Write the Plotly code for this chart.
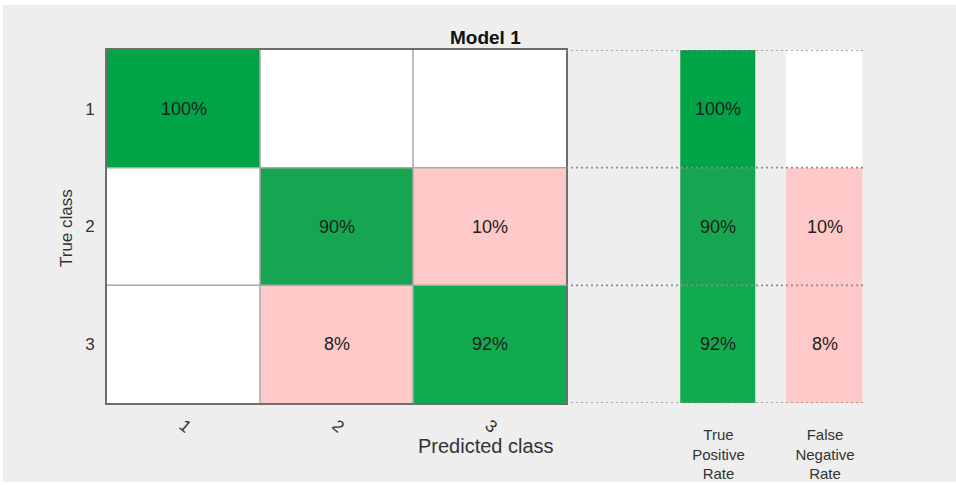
import plotly.graph_objects as go

# ---------------- data ----------------
classes = ["1", "2", "3"]
cm_pct = [[100, 0, 0],
          [0, 90, 10],
          [0, 8, 92]]
tpr = [100, 90, 92]
fnr = [0, 10, 8]
summary_labels = ["True<br>Positive<br>Rate", "False<br>Negative<br>Rate"]
title_text = "Model 1"
xlabel = "Predicted class"
ylabel = "True class"

# ---------------- styles ----------------
FONT = "Liberation Sans, Arial, sans-serif"
BG = "#eeeeee"
GREENS = {100: "#00a346", 92: "#10aa4f", 90: "#16a651"}
PINK = "#ffc9c9"
WHITE = "#ffffff"
W, H = 956, 485


def good_color(v):
    return GREENS.get(v, "#10a84e") if v > 0 else WHITE


def bad_color(v):
    return PINK if v > 0 else WHITE


n = len(classes)
xs = list(range(1, n + 1))

# colour matrices
main_colors = [[good_color(cm_pct[i][j]) if i == j else bad_color(cm_pct[i][j])
                for j in range(n)] for i in range(n)]
sum_colors = [[good_color(tpr[i]), bad_color(fnr[i])] for i in range(n)]

palette = []
for row in main_colors + sum_colors:
    for c in row:
        if c not in palette:
            palette.append(c)
K = len(palette)
cscale = []
for k, c in enumerate(palette):
    cscale.append([k / K, c])
    cscale.append([(k + 1) / K, c])

main_z = [[palette.index(c) for c in row] for row in main_colors]
sum_z = [[palette.index(c) for c in row] for row in sum_colors]
main_text = [[f"{v}%" if v > 0 else "" for v in row] for row in cm_pct]
sum_text = [[f"{tpr[i]}%" if tpr[i] > 0 else "", f"{fnr[i]}%" if fnr[i] > 0 else ""]
            for i in range(n)]

fig = go.Figure()
fig.add_trace(go.Heatmap(
    x=xs, y=xs, z=main_z, text=main_text, texttemplate="%{text}",
    textfont=dict(family=FONT, size=18, color="#1e1e1e"),
    colorscale=cscale, zmin=-0.5, zmax=K - 0.5, showscale=False,
    hoverinfo="skip", xaxis="x", yaxis="y"))
fig.add_trace(go.Heatmap(
    x=[1, 2], y=xs, z=sum_z, text=sum_text, texttemplate="%{text}",
    textfont=dict(family=FONT, size=18, color="#1e1e1e"),
    colorscale=cscale, zmin=-0.5, zmax=K - 0.5, showscale=False,
    xgap=31, ygap=0, hoverinfo="skip", xaxis="x2", yaxis="y"))

# internal grid lines of matrix
shapes = []
for k in range(1, n):
    b = k + 0.5
    shapes.append(dict(type="line", xref="x", yref="y", x0=b, x1=b, y0=0.5, y1=n + 0.5,
                       line=dict(color="#a9a9a9", width=1.5)))
    shapes.append(dict(type="line", xref="x", yref="y", x0=0.5, x1=n + 0.5, y0=b, y1=b,
                       line=dict(color="#a9a9a9", width=1.5)))
# dotted row lines in summary
for k in range(0, n + 1):
    b = k + 0.5
    shapes.append(dict(type="line", xref="x2 domain", yref="y", x0=0, x1=1, y0=b, y1=b,
                       line=dict(color="#8c8c8c", width=1.6, dash="2px,3px")))
# outer gray page area with thin white edges
shapes.insert(0, dict(type="rect", xref="paper", yref="paper", layer="below",
                      x0=3 / W, x1=1, y0=3 / H, y1=1 - 5 / H,
                      fillcolor=BG, line=dict(width=0)))

ytop = 1 - 50 / H
ybot = 1 - 403 / H
fig.update_layout(
    width=W, height=H, margin=dict(l=0, r=0, t=0, b=0),
    paper_bgcolor=WHITE, plot_bgcolor=BG,
    font=dict(family=FONT, color="#333333"),
    showlegend=False, shapes=shapes,
    xaxis=dict(domain=[107 / W, 566 / W], range=[0.5, n + 0.5],
               tickvals=xs, ticktext=classes, tickangle=40,
               ticks="outside", ticklen=4, tickcolor="rgba(0,0,0,0)",
               tickfont=dict(size=17, color="#333333"),
               showgrid=False, zeroline=False,
               showline=True, mirror=True, linecolor="#6e6e6e", linewidth=2),
    yaxis=dict(domain=[ybot, ytop], range=[n + 0.5, 0.5],
               tickvals=xs, ticktext=classes,
               ticks="outside", ticklen=7, tickcolor="rgba(0,0,0,0)",
               tickfont=dict(size=17, color="#333333"),
               showgrid=False, zeroline=False,
               showline=True, mirror=True, linecolor="#6e6e6e", linewidth=2),
    xaxis2=dict(domain=[566 / W, 863 / W], range=[-0.432, 2.357], anchor="y",
                tickvals=[1, 2], ticktext=summary_labels,
                ticks="outside", ticklen=18, tickcolor="rgba(0,0,0,0)",
                tickfont=dict(size=15, color="#333333"),
                showgrid=False, zeroline=False, showline=False),
    annotations=[
        dict(text=f"<b>{title_text}</b>", xref="paper", yref="paper",
             x=485 / W, y=1 - 38 / H, showarrow=False, xanchor="center", yanchor="middle",
             font=dict(size=19, color="#111111")),
        dict(text=xlabel, xref="paper", yref="paper",
             x=486 / W, y=1 - 446 / H, showarrow=False, xanchor="center", yanchor="middle",
             font=dict(size=20, color="#333333")),
        dict(text=ylabel, xref="paper", yref="paper", textangle=-90,
             x=66 / W, y=1 - 228 / H, showarrow=False, xanchor="center", yanchor="middle",
             font=dict(size=17, color="#333333")),
    ],
)

fig.write_html("out.html", config={"displayModeBar": False},
               post_script="document.body.style.margin='0';document.body.style.padding='0';")
